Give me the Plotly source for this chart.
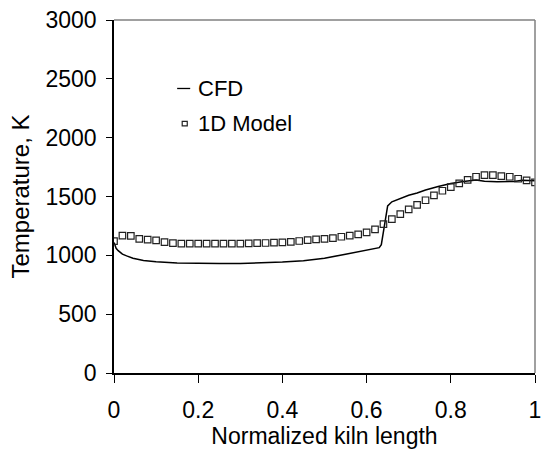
import plotly.graph_objects as go

# CFD temperature profile along the kiln
cfd_x = [0.0, 0.005, 0.01, 0.02, 0.03, 0.045, 0.07, 0.10, 0.15, 0.20, 0.25, 0.30,
         0.35, 0.40, 0.45, 0.50, 0.55, 0.60, 0.63, 0.635, 0.64, 0.645, 0.65, 0.66,
         0.68, 0.70, 0.72, 0.74, 0.77, 0.80, 0.83, 0.86, 0.88, 0.91, 0.95, 0.97, 1.0]
cfd_t = [1110, 1060, 1040, 1010, 995, 975, 957, 945, 935, 931, 930, 931,
         935, 943, 955, 975, 1010, 1045, 1065, 1090, 1200, 1340, 1420, 1455,
         1482, 1510, 1530, 1555, 1585, 1610, 1628, 1640, 1630, 1625, 1628, 1638, 1634]

# 1D model temperature profile (every 0.02 of kiln length)
model_x = [round(i * 0.02, 2) for i in range(51)]
model_t = [1120, 1168, 1165, 1140, 1134, 1127, 1112, 1103, 1100, 1100,
           1100, 1100, 1100, 1100, 1100, 1100, 1102, 1104, 1105, 1108,
           1110, 1115, 1122, 1130, 1135, 1140, 1146, 1158, 1167, 1178,
           1195, 1220, 1265, 1308, 1350, 1390, 1428, 1468, 1509, 1549,
           1580, 1611, 1642, 1668, 1682, 1682, 1674, 1668, 1651, 1637, 1620]

series_names = ["CFD", "1D Model"]
x_ticks = [0, 0.2, 0.4, 0.6, 0.8, 1]
y_ticks = [0, 500, 1000, 1500, 2000, 2500, 3000]

FONT = "Liberation Sans, Arial, sans-serif"
MARKER_COLOR = "#222222"

fig = go.Figure()
fig.add_trace(go.Scatter(
    x=cfd_x, y=cfd_t, mode="lines", name=series_names[0],
    line=dict(color="black", width=1.5), showlegend=False,
))
fig.add_trace(go.Scatter(
    x=model_x, y=model_t, mode="markers", name=series_names[1],
    marker=dict(symbol="square-open", size=6.5, color=MARKER_COLOR,
                line=dict(width=1.2, color=MARKER_COLOR)),
    showlegend=False,
))

fig.update_layout(
    width=542, height=461,
    margin=dict(l=114, r=7, t=20, b=88),
    paper_bgcolor="white", plot_bgcolor="white",
    font=dict(family=FONT, color="black", size=23),
    xaxis=dict(
        range=[0, 1], tickvals=x_ticks, ticktext=[str(v) for v in x_ticks],
        showgrid=False, zeroline=False, showline=True, linecolor="black",
        linewidth=1.5, ticks="outside", ticklen=8, tickwidth=1.2,
        tickcolor="black", tickfont=dict(size=23), ticklabelstandoff=8,
        ticklabeloverflow="allow",
        title=dict(text="Normalized kiln length", font=dict(size=23), standoff=6),
        automargin=False,
    ),
    yaxis=dict(
        range=[0, 3000], tickvals=y_ticks,
        showgrid=False, zeroline=False, showline=True, linecolor="black",
        linewidth=1.5, ticks="outside", ticklen=6, tickwidth=1.2,
        tickcolor="black", tickfont=dict(size=23), ticklabelstandoff=5,
        ticklabeloverflow="allow",
        title=dict(text="Temperature, K", font=dict(size=24), standoff=9),
        automargin=False,
    ),
)

# grey frame on the top and right of the plotting area
fig.add_shape(type="line", xref="paper", yref="paper", x0=0, x1=1, y0=1, y1=1,
              line=dict(color="#808080", width=1.5))
fig.add_shape(type="line", xref="paper", yref="paper", x0=1, x1=1, y0=0, y1=1,
              line=dict(color="#808080", width=1.5))

# key: short dash for the CFD line, small open square for the 1D model
fig.add_shape(type="line", xref="paper", yref="paper",
              x0=0.150, x1=0.181, y0=0.806, y1=0.806,
              line=dict(color="black", width=1.3))
fig.add_shape(type="rect", xref="paper", yref="paper",
              x0=0.162, x1=0.174, y0=0.700, y1=0.713,
              line=dict(color=MARKER_COLOR, width=1.2))
for name, ypos in zip(series_names, [0.807, 0.708]):
    fig.add_annotation(text=name, xref="paper", yref="paper", x=0.195, y=ypos,
                       xanchor="left", yanchor="middle", showarrow=False,
                       font=dict(size=22, family=FONT, color="black"))

fig.write_html("out.html")
